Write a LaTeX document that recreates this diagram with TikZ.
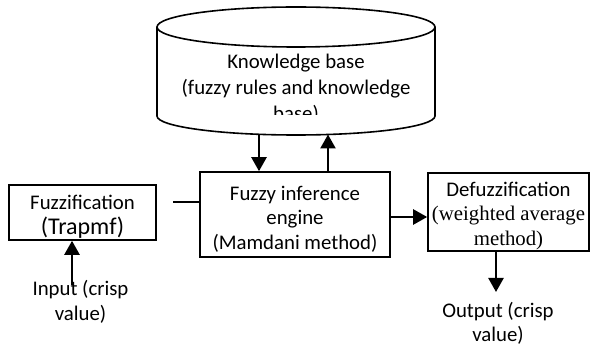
\documentclass[tikz,border=0pt]{standalone}
\usepackage{fontspec}
\setmainfont{Carlito}
\newfontfamily\serifpart{Liberation Serif}
\usetikzlibrary{arrows.meta}
% invisible strut that raises the first line of a block
\newcommand{\toppad}[1]{\rule{0pt}{#1}}
\tikzset{
  outline/.style={line width=1.6pt},
  blockbox/.style={draw, outline, align=center, inner sep=0pt,
    font=\fontsize{20.8}{24.5}\selectfont},
  plain/.style={align=center, inner sep=0pt,
    font=\fontsize{20.8}{24.5}\selectfont},
  arr/.style={line width=2.4pt, -{Triangle[width=15pt,length=14pt]}},
  link/.style={line width=2.4pt}
}
\begin{document}
\begin{tikzpicture}[x=1pt,y=1pt]
  \useasboundingbox (0,0) rectangle (590,-347);

  % knowledge base drum
  \draw[outline] (157,-27) -- (157,-116)
    arc[start angle=180,end angle=360,x radius=139,y radius=19] -- (435,-27);
  \draw[outline] (296,-27) ellipse[x radius=139,y radius=20];
  \begin{scope}
    \clip (158,-27) rectangle (434,-115);
    \node[plain, font=\fontsize{20.8}{26}\selectfont] (kb) at (296,-89)
      {Knowledge base\\(fuzzy rules and knowledge\\base)};
  \end{scope}
  \coordinate (kbdown) at (259,-134);
  \coordinate (kbup) at (328,-134.5);

  % processing blocks
  \node[blockbox, minimum width=147pt, minimum height=55pt] (fuz) at (82.5,-212.5)
    {\toppad{23pt}Fuzzification\\{\fontsize{24}{26}\selectfont(Trapmf)}};
  \node[blockbox, minimum width=190pt, minimum height=85pt] (inf) at (295,-214.5)
    {\toppad{23.5pt}Fuzzy inference\\engine\\(Mamdani method)};
  \node[blockbox, minimum width=161pt, minimum height=78pt] (dfz) at (508.5,-212)
    {\toppad{22pt}Defuzzification\\{\serifpart(weighted average}\\{\serifpart method)}};

  % crisp input and output labels
  \node[plain] (inp) at (80.5,-302) {Input (crisp\\value)};
  \node[plain] (outp) at (498,-323.5) {Output (crisp\\value)};

  % connectors
  \draw[arr] (kbdown) -- (kbdown |- inf.north);
  \draw[arr] (kbup |- inf.north) -- (kbup);
  \coordinate (stub) at (173,-202);
  \draw[link] (stub) -- (stub -| inf.west);
  \coordinate (mid) at (390,-217);
  \draw[arr] (mid) -- (mid -| dfz.west);
  \coordinate (inbot) at (72,-285);
  \draw[arr] (inbot) -- (inbot |- fuz.south);
  \coordinate (outtip) at (496,-292);
  \draw[arr] (outtip |- dfz.south) -- (outtip);
\end{tikzpicture}
\end{document}
